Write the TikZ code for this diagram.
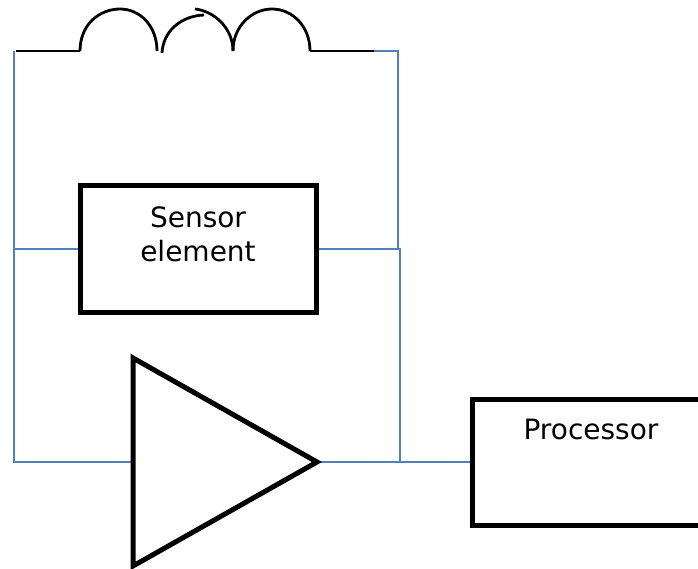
\documentclass[tikz,border=0pt]{standalone}
\usepackage{fontspec}
\setmainfont{DejaVu Sans}
\usepackage{xcolor}
\usetikzlibrary{calc}
\definecolor{wireblue}{RGB}{79,129,189}
\tikzset{
	wire/.style={line width=2pt, draw=wireblue},
	coil/.style={line width=2.8pt, draw=black},
	box/.style={line width=5pt, draw=black, inner sep=0pt, minimum width=#1},
	label/.style={font=\fontsize{28}{34}\selectfont, align=center, inner sep=0pt}
}

\begin{document}
\begin{tikzpicture}[x=1pt, y=-1pt]
	\useasboundingbox (0,0) rectangle (698,569);

	\coordinate[](tl) at (14,51);
	\coordinate[](tr) at (398,51);
	\coordinate[](cl) at (14,249);
	\coordinate[](cr) at (400,249);
	\coordinate[](bl) at (14,462);
	\coordinate[](br) at (400,462);
	\coordinate[](coilL) at (80,51);
	\coordinate[](coilR) at (310,51);
	\coordinate[](leadL) at (16,51);
	\coordinate[](leadR) at (374,51);
	\coordinate[](ampA) at (133,358);
	\coordinate[](ampB) at (133,566);
	\coordinate[](ampC) at (317,462);
	\coordinate[](ampIn) at (133,462);

	% Boxes
	\node[box=236pt, minimum height=127pt] (sensor) at (198,249) {};
	\node[box=232pt, minimum height=126pt] (processor) at (588,462) {};
	\node[label] (sensortext) at (198,234) {Sensor\\element};
	\node[label] (processortext) at (591,429) {Processor};

	% Wires
	\draw[wire] (leadR) -- (tr) -- (398,249);
	\draw[wire] (tl) -- (bl) -- (ampIn);
	\draw[wire] (cl) -- (sensor.west);
	\draw[wire] (sensor.east) -- (cr) -- (br);
	\draw[wire] (ampC) -- (processor.west);

	% Amplifier
	\draw[line width=5pt, draw=black, miter limit=10]
	(ampA) -- (ampC) -- (ampB) -- cycle;

	% Coil
	\draw[coil] (leadL) -- (coilL);
	\draw[coil] (coilR) -- (leadR);
	\draw[coil] (coilL) .. controls (80,24) and (100,9) .. (120,9)
	.. controls (140,9) and (157,26) .. (157,51);
	\draw[coil] (162,53) .. controls (163,32) and (180,16) .. (204,15);
	\draw[coil] (195,9) .. controls (214,11) and (233,28) .. (233,51);
	\draw[coil] (233,51) .. controls (233,26) and (252,9) .. (272,9)
	.. controls (292,9) and (310,26) .. (coilR);
\end{tikzpicture}
\end{document}
